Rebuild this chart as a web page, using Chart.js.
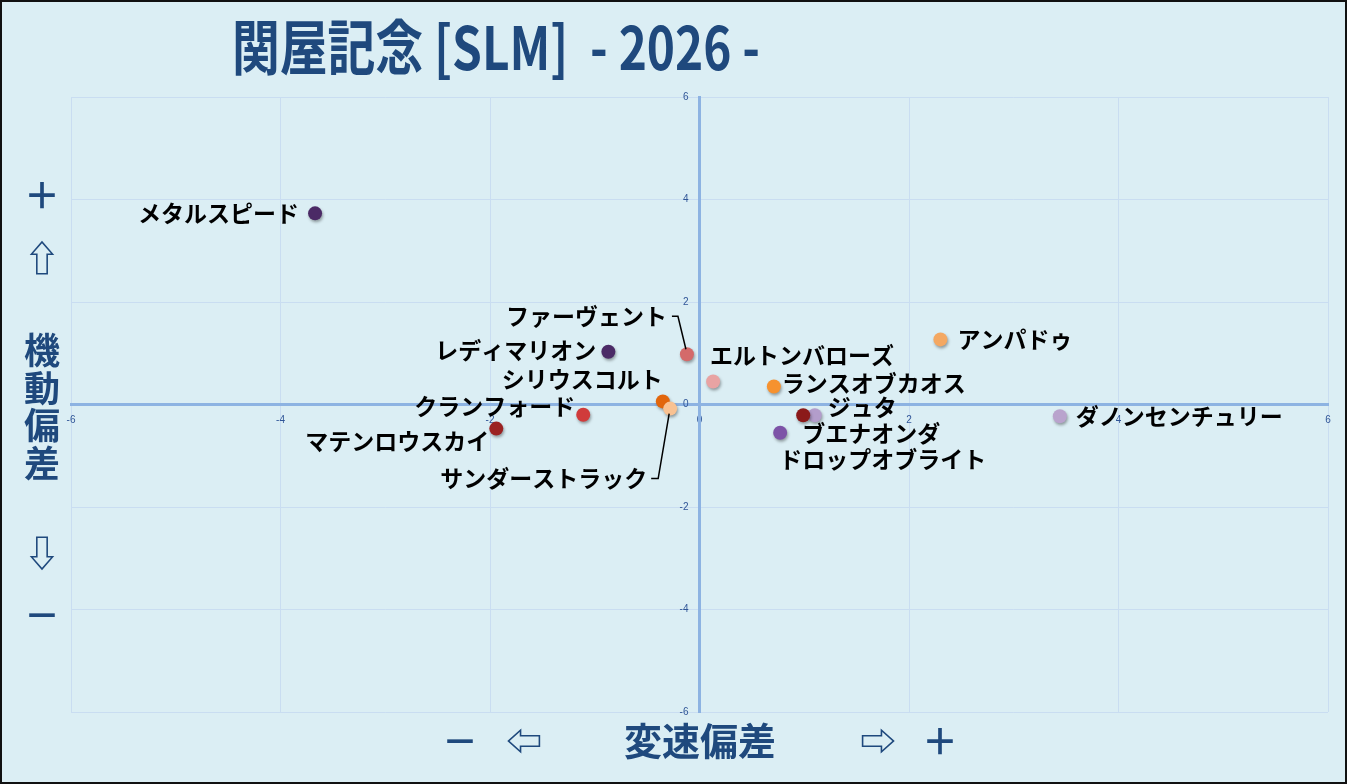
<!DOCTYPE html>
<html><head><meta charset="utf-8">
<script src="https://cdn.jsdelivr.net/npm/chart.js@4"></script>
<style>html,body{margin:0;padding:0;background:#dbeef4;}canvas{display:block;}</style>
</head><body>
<canvas id="c" width="1347" height="784"></canvas>
<script>
// ---- data ----
const horses = ["メタルスピード","レディマリオン","ファーヴェント","エルトンバローズ","シリウスコルト","サンダーストラック","クランフォード","マテンロウスカイ","ランスオブカオス","アンパドゥ","ジュタ","ドロップオブライト","ブエナオンダ","ダノンセンチュリー"];
const speedDev    = [-3.67,-0.87,-0.12,0.13,-0.35,-0.28,-1.11,-1.94,0.71,2.30,1.10,0.99,0.77,3.44];
const mobilityDev = [ 3.73, 1.03, 0.98,0.45, 0.06,-0.08,-0.20,-0.47,0.35,1.27,-0.21,-0.21,-0.55,-0.23];
const axisMin = -6, axisMax = 6, axisStep = 2;
const titleText = "関屋記念 [SLM]  - 2026 -";
const yAxisTitle = ["＋","⇧","機","動","偏","差","⇩","－"];
const xAxisTitle = ["－","⇦","変速偏差","⇨","＋"];

// ---- styles ----
const pointColors = ["#4b2a66","#4b2a66","#d46a6a","#e8a3a3","#e2660c","#f9c292","#d03b3b","#9b2222","#f6922f","#f4a862","#b39dcb","#8b1a1a","#7d53a7","#b9a3cd"];
// label offsets relative to point (px): [dx, dy, align]
const labelPlacement = [[-16,0,"right"],[-12,-1,"right"],[-20,-38,"right"],[-3,-26,"left"],[0,-22,"right"],[-23,70,"right"],[-8,-8,"right"],[-7,13,"right"],[8,-3,"left"],[17,0,"left"],[13,-8,"left"],[-24,44,"left"],[22,1,"left"],[16,0,"left"]];
const leaders = {2:[[-15,-38],[-9,-38],[-1,-5]], 5:[[-19,70],[-12,70],[-1,5]]};
const navy = "#1f497d";
const tickColor = "#2f5597";

const bgPlugin = {id:"bg", beforeDraw(chart){const c=chart.ctx;c.save();c.fillStyle="#dbeef4";c.fillRect(0,0,chart.width,chart.height);c.restore();}};
const shadowPlugin = {id:"shadow",
  beforeDatasetsDraw(chart){const c=chart.ctx;c.save();c.shadowColor="rgba(0,0,0,0.35)";c.shadowBlur=3;c.shadowOffsetX=1;c.shadowOffsetY=2;},
  afterDatasetsDraw(chart){chart.ctx.restore();}};
// y tick labels, taken from the library's y scale, drawn left of the centred axis
const yTickPlugin = {id:"yticks", afterDraw(chart){
  const c=chart.ctx, ys=chart.scales.y, xPix=chart.scales.x.getPixelForValue(0);
  c.save();c.font='10px "Liberation Sans"';c.fillStyle=tickColor;c.textAlign="right";c.textBaseline="middle";
  ys.ticks.forEach(t=>c.fillText(String(t.label),xPix-11,ys.getPixelForValue(t.value)));
  c.restore();}};
const labelPlugin = {id:"labels", afterDatasetsDraw(chart){
  const c=chart.ctx, meta=chart.getDatasetMeta(0);
  c.save();
  c.font='bold 23px "Noto Sans CJK JP"';c.fillStyle="#000";c.textBaseline="middle";
  meta.data.forEach((pt,i)=>{
    const [dx,dy,al]=labelPlacement[i];
    c.textAlign=al;c.fillText(horses[i],pt.x+dx,pt.y+dy);
    if(leaders[i]){c.strokeStyle="#000";c.lineWidth=1.5;c.beginPath();
      leaders[i].forEach((p,k)=>{k?c.lineTo(pt.x+p[0],pt.y+p[1]):c.moveTo(pt.x+p[0],pt.y+p[1]);});c.stroke();}
  });
  c.restore();}};
const decoPlugin = {id:"deco", afterDraw(chart){
  const c=chart.ctx;c.save();
  // title
  c.font='bold 60px "Noto Sans CJK JP"';c.fillStyle=navy;c.textBaseline="middle";c.textAlign="left";
  const w=c.measureText(titleText).width, target=528;
  c.translate(232,47);c.scale(target/w,1);c.fillText(titleText,0,0);
  c.setTransform(1,0,0,1,0,0);
  // y axis title
  c.textAlign="center";c.font='bold 36px "Noto Sans CJK JP"';
  const ys=[195,258,350,388,425,463,553,615];
  yAxisTitle.forEach((t,i)=>c.fillText(t,42,ys[i]));
  // x axis title
  const xs=[460,524,700,878,940];
  xAxisTitle.forEach((t,i)=>{c.font=i===2?'bold 38px "Noto Sans CJK JP"':'bold 36px "Noto Sans CJK JP"';c.fillText(t,xs[i],741);});
  // frame
  c.strokeStyle="#111";c.lineWidth=2;c.strokeRect(1,1,chart.width-2,chart.height-2);
  c.restore();}};

new Chart(document.getElementById("c"),{
  type:"scatter",
  data:{datasets:[{data:speedDev.map((x,i)=>({x,y:mobilityDev[i]})),backgroundColor:pointColors,borderColor:pointColors,pointRadius:7,pointHoverRadius:7,borderWidth:0}]},
  options:{responsive:false,animation:false,devicePixelRatio:1,
    layout:{padding:{left:71,right:19,top:97,bottom:72}},
    plugins:{legend:{display:false},tooltip:{enabled:false},title:{display:false}},
    scales:{
      x:{type:"linear",min:axisMin,max:axisMax,position:{y:0},
        ticks:{stepSize:axisStep,color:tickColor,font:{family:"Liberation Sans",size:10},padding:10,maxRotation:0},
        grid:{color:"#c9ddf1",lineWidth:1,drawTicks:false},border:{color:"#8db3e2",width:3}},
      y:{type:"linear",min:axisMin,max:axisMax,position:{x:0},
        ticks:{stepSize:axisStep,display:false},
        grid:{color:"#c9ddf1",lineWidth:1,drawTicks:false},border:{color:"#8db3e2",width:3}}
    }},
  plugins:[bgPlugin,shadowPlugin,labelPlugin,yTickPlugin,decoPlugin]
});
</script>
</body></html>
